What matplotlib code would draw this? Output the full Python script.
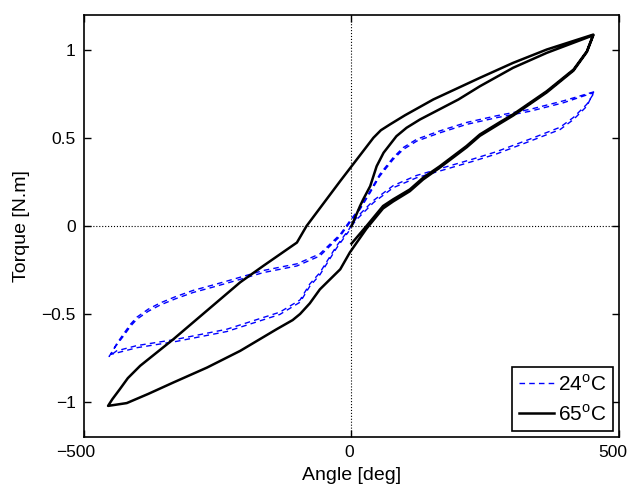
import numpy as np
import matplotlib
matplotlib.use("Agg")
import matplotlib.pyplot as plt
import matplotlib.transforms as mtransforms

plt.rcParams['font.family'] = ['Liberation Sans', 'DejaVu Sans']
plt.rcParams['mathtext.fontset'] = 'custom'
plt.rcParams['mathtext.rm'] = 'Liberation Sans'

# 24 C test, two cycles (dashed blue)
angle_24 = [0, 10, 41, 78, 122, 165, 228, 271, 334, 390, 415, 440, 452,
            396, 334, 271, 215, 165, 122, 97, 78, 53, 35, 16, -3, -21, -59, -102,
            -165, -227, -262, -296, -330, -358, -380, -401, -413, -426, -441, -453,
            -439, -401, -327, -233, -134, -96, -78, -59, -28, -5,
            10, 41, 78, 122, 165, 228, 271, 334, 390, 415, 440, 455,
            396, 334, 271, 215, 165, 122, 97, 78, 53, 35, 16, -3, -21, -59, -102,
            -165, -227, -262, -296, -330, -358, -380, -401, -413, -426, -439, -450,
            -439, -401, -327, -233, -134, -96, -78, -59, -28, -5]
torque_24 = [0.0, 0.038, 0.133, 0.218, 0.275, 0.313, 0.369, 0.41, 0.483, 0.549, 0.606, 0.682, 0.758,
             0.701, 0.653, 0.616, 0.578, 0.53, 0.483, 0.436, 0.379, 0.284, 0.19, 0.095, 0.02, -0.057, -0.17, -0.227,
             -0.265, -0.32, -0.35, -0.378, -0.415, -0.45, -0.485, -0.53, -0.57, -0.625, -0.685, -0.742,
             -0.71, -0.68, -0.644, -0.587, -0.49, -0.42, -0.33, -0.265, -0.114, -0.02,
             0.05, 0.145, 0.23, 0.288, 0.326, 0.382, 0.423, 0.495, 0.562, 0.618, 0.693, 0.765,
             0.712, 0.664, 0.627, 0.589, 0.541, 0.494, 0.447, 0.39, 0.295, 0.2, 0.105, 0.03, -0.047, -0.158, -0.215,
             -0.253, -0.308, -0.338, -0.366, -0.403, -0.438, -0.473, -0.518, -0.558, -0.613, -0.67, -0.73,
             -0.722, -0.692, -0.656, -0.6, -0.503, -0.433, -0.343, -0.277, -0.126, -0.03]

# 65 C test (solid black)
angle_65 = [0, 28, 59, 78, 109, 134, 165, 215, 240, 277, 302, 365, 415, 440, 452,
            365, 302, 240, 153, 100, 72, 55, 41, 10, -21, -84, -102, -165, -208, -333, -395, -418, -433, -447, -455,
            -420, -380, -333, -270, -208, -140, -110, -96, -78, -59, -21, -3,
            28, 59, 78, 109, 134, 165, 215, 240, 277, 302, 365, 415, 440, 452,
            365, 302, 240, 200, 128, 103, 84, 60, 47, 35, 22, 16, 0]
torque_65 = [-0.10, 0.0, 0.114, 0.152, 0.208, 0.275, 0.34, 0.455, 0.521, 0.59, 0.635, 0.767, 0.89, 0.994, 1.089,
             1.004, 0.928, 0.843, 0.72, 0.63, 0.578, 0.545, 0.502, 0.379, 0.256, 0.0, -0.094, -0.227, -0.32, -0.644, -0.795, -0.865, -0.928, -0.985, -1.023,
             -1.007, -0.955, -0.89, -0.805, -0.71, -0.587, -0.535, -0.50, -0.44, -0.36, -0.246, -0.15,
             -0.015, 0.1, 0.14, 0.198, 0.265, 0.332, 0.447, 0.513, 0.582, 0.628, 0.76, 0.884, 0.99, 1.085,
             0.985, 0.9, 0.795, 0.72, 0.606, 0.559, 0.511, 0.417, 0.34, 0.227, 0.152, 0.114, 0.0]

xticks = [-500, 0, 500]
xtick_labels = ['\u2212500', '0', '500']
yticks = [-1, -0.5, 0, 0.5, 1]
ytick_labels = ['\u22121', '\u22120.5', '0', '0.5', '1']

fig = plt.figure(figsize=(6.3, 4.86), dpi=100)
ax = fig.add_axes([0.1333, 0.1008, 0.8492, 0.8682])

ax.plot(angle_24, torque_24, color='blue', linestyle='--', dashes=(4, 3), linewidth=1.0,
        label='24$^{\\rm o}$C')
ax.plot(angle_65, torque_65, color='black', linestyle='-', linewidth=1.8,
        label='65$^{\\rm o}$C')

ax.axhline(0, color='black', linestyle=':', linewidth=0.8, zorder=0)
ax.axvline(0, color='black', linestyle=':', linewidth=0.8, zorder=0)

ax.set_xlim(-500, 500)
ax.set_ylim(-1.2, 1.2)
ax.set_xticks(xticks)
ax.set_yticks(yticks)
ax.set_xticklabels(xtick_labels)
ax.set_yticklabels(ytick_labels)
ax.tick_params(direction='in', top=True, right=True, length=5, width=1, labelsize=12.5, pad=6)
for s in ax.spines.values():
    s.set_linewidth(1.2)

# nudge x tick labels slightly left like the original render
shifts = [-8, -2, -6]
for lab, dx in zip(ax.get_xticklabels(), shifts):
    lab.set_transform(lab.get_transform() + mtransforms.ScaledTranslation(dx / 100, 0, fig.dpi_scale_trans))

ax.set_xlabel('Angle [deg]', fontsize=14, labelpad=5)
ax.set_ylabel('Torque [N.m]', fontsize=14, labelpad=8)

leg = ax.legend(loc='lower right', fontsize=15, handlelength=1.7, handletextpad=0.2,
                borderpad=0.3, labelspacing=0.45, fancybox=False, framealpha=1,
                borderaxespad=0.3)
leg.get_frame().set_edgecolor('black')
leg.get_frame().set_linewidth(1.2)

fig.savefig('out.png', dpi=100)
